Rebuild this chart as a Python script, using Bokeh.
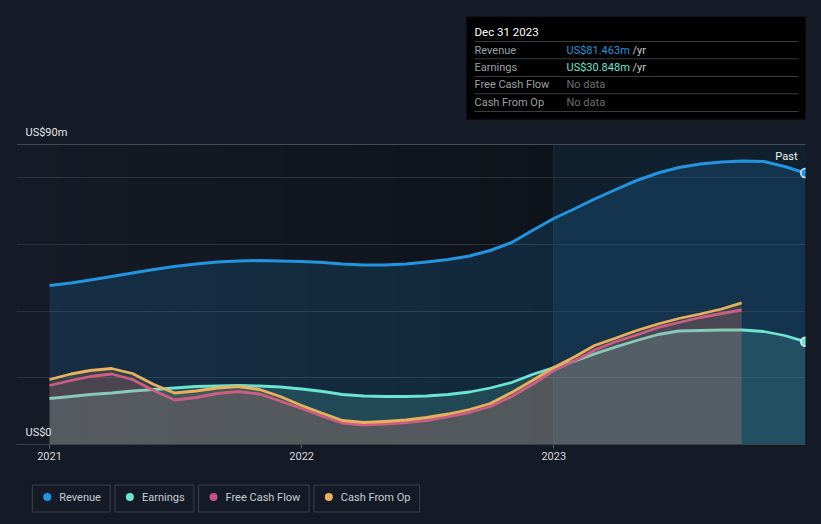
import datetime as dt
from bokeh.plotting import figure
from bokeh.models import Range1d, FixedTicker, BoxAnnotation, ColumnDataSource
from bokeh.layouts import column
from bokeh.embed import file_html
from bokeh.resources import INLINE
from bokeh.core.properties import value

# ---------------- data (US$ millions) ----------------
dates = ["2021-01-01", "2021-02-01", "2021-03-01", "2021-04-01", "2021-05-01", "2021-06-01",
         "2021-07-01", "2021-08-01", "2021-09-01", "2021-10-01", "2021-11-01", "2021-12-01",
         "2022-01-01", "2022-02-01", "2022-03-01", "2022-04-01", "2022-05-01", "2022-06-01",
         "2022-07-01", "2022-08-01", "2022-09-01", "2022-10-01", "2022-11-01", "2022-12-01",
         "2023-01-01", "2023-02-01", "2023-03-01", "2023-04-01", "2023-05-01", "2023-06-01",
         "2023-07-01", "2023-08-01", "2023-09-01", "2023-10-01", "2023-11-01", "2023-12-01",
         "2023-12-31"]
revenue = [47.7, 48.45, 49.35, 50.4, 51.45, 52.5, 53.4, 54.15, 54.75, 55.05, 55.2, 55.05,
           54.9, 54.6, 54.15, 53.85, 53.85, 54.15, 54.75, 55.5, 56.55, 58.2, 60.6, 64.2,
           67.8, 70.8, 73.65, 76.5, 79.2, 81.45, 83.1, 84.15, 84.75, 85.05, 84.9, 83.4,
           81.463]
earnings = [13.8, 14.4, 15.0, 15.45, 16.05, 16.5, 16.95, 17.4, 17.55, 17.7, 17.55, 17.25,
            16.65, 15.9, 15.0, 14.55, 14.4, 14.4, 14.55, 15.0, 15.75, 16.95, 18.6, 21.0,
            23.1, 25.1, 27.2, 29.3, 31.2, 33.0, 34.05, 34.2, 34.35, 34.35, 33.9, 32.7,
            30.848]
cash_dates = dates[:33] + ["2023-09-30"]
free_cash_flow = [17.7, 19.2, 20.4, 21.15, 19.5, 16.2, 13.35, 14.1, 15.3, 15.9, 15.15, 13.05,
                  10.8, 8.4, 6.45, 5.85, 6.15, 6.6, 7.2, 8.4, 9.6, 11.4, 14.4, 18.0,
                  22.2, 25.2, 28.3, 30.9, 32.85, 35.1, 36.6, 38.1, 39.3, 40.35]
cash_from_op = [19.5, 21.15, 22.2, 22.8, 21.3, 18.0, 15.45, 16.05, 16.95, 17.4, 16.5, 14.4,
                11.7, 9.3, 7.2, 6.6, 6.9, 7.35, 8.1, 9.15, 10.5, 12.3, 15.6, 19.2,
                23.1, 26.4, 29.7, 31.95, 34.2, 36.15, 37.8, 39.15, 40.65, 42.5]

year_ticks = [2021, 2022, 2023]
y_top = 90
grid_vals = [20, 40, 60, 80]
legend_labels = ["Revenue", "Earnings", "Free Cash Flow", "Cash From Op"]
tip_title = "Dec 31 2023"
tip_rows = ["Revenue", "Earnings", "Free Cash Flow", "Cash From Op"]
tip_values = ["US$81.463m", "US$30.848m", "No data", "No data"]

# ---------------- style ----------------
BG = "#151b26"
C_REV = "#2394df"
C_EARN = "#6be4d2"
C_FCF = "#c8508a"
C_CFO = "#e9b05f"
FONT = value("Roboto")
COLORS = [C_REV, C_EARN, C_FCF, C_CFO]


def frac_year(s):
    d = dt.date.fromisoformat(s)
    a = dt.date(d.year, 1, 1)
    b = dt.date(d.year + 1, 1, 1)
    return d.year + (d - a).days / (b - a).days


# page pixel -> data helpers (for annotations only)
def X(px):
    return 2021 + (px - 49) / 252.15


def Y(py):
    return (444 - py) * 0.3


xs = [frac_year(d) for d in dates]
xc = [frac_year(d) for d in cash_dates]

p = figure(width=821, height=474, output_backend="svg", toolbar_location=None,
           x_range=Range1d(X(16), X(805)), y_range=Range1d(0, Y(16)),
           y_axis_location=None,
           min_border_left=16, min_border_right=16, min_border_top=16, min_border_bottom=30,
           background_fill_color=BG, border_fill_color=BG, outline_line_color=None)

# plot-area background: gradient towards 2023, then highlighted "past" year
n = 24
x0, x1 = X(16), 2023.0
c0, c1 = (21, 27, 38), (14, 19, 26)
for i in range(n):
    t = (i + 0.5) / n
    col = "#%02x%02x%02x" % tuple(int(round(c0[k] + (c1[k] - c0[k]) * t)) for k in range(3))
    p.add_layout(BoxAnnotation(left=x0 + (x1 - x0) * i / n, right=x0 + (x1 - x0) * (i + 1) / n + 0.002,
                               bottom=0, top=y_top, fill_color=col, fill_alpha=1.0,
                               line_color=None, level="image"))
p.add_layout(BoxAnnotation(left=2023.0, right=X(806), bottom=0, top=y_top,
                           fill_color="#11202e", fill_alpha=1.0, line_color=None, level="image"))

p.ygrid.ticker = FixedTicker(ticks=grid_vals)
p.ygrid.grid_line_color = "#2c323c"
p.ygrid.grid_line_width = 1
p.xgrid.grid_line_color = None
p.segment(x0=[X(16)], y0=[y_top], x1=[X(806)], y1=[y_top], line_color="#454a54", line_width=1)
p.segment(x0=[2023.0], y0=[0], x1=[2023.0], y1=[y_top], line_color="#183048", line_width=1)

src = ColumnDataSource(dict(x=xs, rev=revenue, earn=earnings, zero=[0] * len(xs)))
csrc = ColumnDataSource(dict(x=xc, fcf=free_cash_flow, cfo=cash_from_op, zero=[0] * len(xc)))

p.varea(x="x", y1="zero", y2="rev", source=src, fill_color=C_REV, fill_alpha=0.17)
p.varea(x="x", y1="zero", y2="earn", source=src, fill_color=C_EARN, fill_alpha=0.17)
p.line(x="x", y="earn", source=src, line_color=C_EARN, line_width=2.8, line_join="round")
p.varea(x="x", y1="zero", y2="fcf", source=csrc, fill_color=C_FCF, fill_alpha=0.15)
p.line(x="x", y="fcf", source=csrc, line_color=C_FCF, line_width=2.8, line_join="round")
p.varea(x="x", y1="zero", y2="cfo", source=csrc, fill_color=C_CFO, fill_alpha=0.15)
p.line(x="x", y="cfo", source=csrc, line_color=C_CFO, line_width=2.8, line_join="round")
p.line(x="x", y="rev", source=src, line_color=C_REV, line_width=3, line_join="round")

p.scatter(x=[xs[-1], xs[-1]], y=[revenue[-1], earnings[-1]], size=9,
          fill_color=[C_REV, C_EARN], line_color="#dff1fb", line_width=1.5)

# x axis
ax = p.xaxis[0]
ax.ticker = FixedTicker(ticks=year_ticks)
ax.major_label_overrides = {t: str(t) for t in year_ticks}
ax.axis_line_color = "#3a3f48"
ax.major_tick_line_color = "#5a5f68"
ax.major_tick_in = 0
ax.major_tick_out = 4
ax.minor_tick_line_color = None
ax.major_label_standoff = 3
ax.major_label_text_font = "Roboto"
ax.major_label_text_font_size = "11px"
ax.major_label_text_color = "#d5d8dc"

# y labels & "Past"
p.text(x=[X(25), X(25)], y=[Y(132), Y(432)], text=["US$90m", "US$0"], text_font=FONT,
       text_font_size="11px", text_color="#e4e6ea", text_baseline="middle", text_align="left")
p.text(x=[X(797)], y=[Y(156)], text=["Past"], text_font=FONT, text_font_size="11px",
       text_color="#f0f2f4", text_baseline="middle", text_align="right")

# tooltip box
p.quad(left=[X(466)], right=[X(806)], bottom=[Y(119)], top=[Y(16)], fill_color="#000000",
       line_color=None)
sep_y = [Y(v) for v in (41, 58.3, 76, 93.3, 111)]
p.segment(x0=[X(474)] * 5, y0=sep_y, x1=[X(798)] * 5, y1=sep_y, line_color="#3a3b3d", line_width=1)
p.text(x=[X(474)], y=[Y(31)], text=[tip_title], text_font=FONT, text_font_size="11.5px",
       text_color="#ffffff", text_baseline="middle", text_align="left")
row_y = [Y(v) for v in (49.5, 66.5, 84, 101.5)]
p.text(x=[X(474)] * 4, y=row_y, text=tip_rows, text_font=FONT, text_font_size="11px",
       text_color="#9ba0a7", text_baseline="middle", text_align="left")
p.text(x=[X(566)] * 4, y=row_y, text=tip_values, text_font=FONT, text_font_size="11px",
       text_color=[C_REV, C_EARN, "#6b6f76", "#6b6f76"], text_baseline="middle", text_align="left")
p.text(x=[X(632)] * 2, y=row_y[:2], text=["/yr", "/yr"], text_font=FONT, text_font_size="11px",
       text_color="#c8ccd2", text_baseline="middle", text_align="left")

# ---------------- legend strip ----------------
lg = figure(width=821, height=50, output_backend="svg", toolbar_location=None,
            x_range=Range1d(0, 821), y_range=Range1d(524, 474),
            x_axis_location=None, y_axis_location=None,
            min_border_left=0, min_border_right=0, min_border_top=0, min_border_bottom=0,
            background_fill_color=BG, border_fill_color=BG, outline_line_color=None)
lg.grid.visible = False
box_l = [16.5, 102.5, 189.5, 309.5]
box_r = [97.5, 184.5, 304.5, 419.5]
lg.quad(left=box_l, right=box_r, top=[484.5] * 4, bottom=[511.5] * 4, fill_color=None,
        line_color="#3a3f49", line_width=1)
lg.scatter(x=[b + 15.5 for b in box_l], y=[496.5] * 4, size=8, fill_color=COLORS, line_color=None)
lg.text(x=[b + 28 for b in box_l], y=[496.5] * 4, text=legend_labels, text_font=FONT,
        text_font_size="11px", text_color="#c8ccd2", text_baseline="middle", text_align="left")

layout = column(p, lg, spacing=0)
html = file_html(layout, INLINE)
html = html.replace("<head>", "<head><style>html,body{background:#151b26;}</style>", 1)
open("out.html", "w").write(html)
